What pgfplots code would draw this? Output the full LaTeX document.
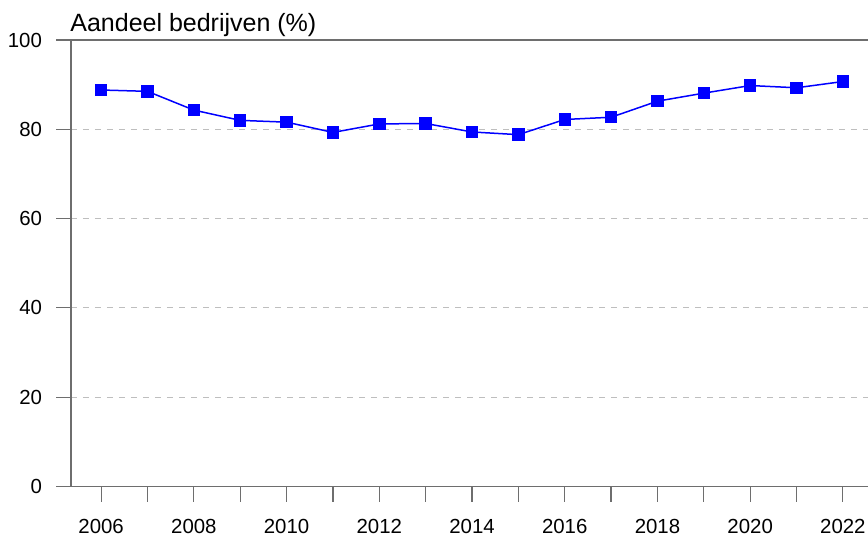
\documentclass[border=0pt]{standalone}
\usepackage{pgfplots}
\pgfplotsset{compat=1.18}
\usepackage{fontspec}
\setmainfont{Liberation Sans}
\usetikzlibrary{calc}

\definecolor{axisgray}{RGB}{110,110,110}
\definecolor{gridgray}{RGB}{190,190,190}

\begin{document}
\begin{tikzpicture}
\begin{axis}[
    scale only axis,
    width=398.5pt, height=223.25pt,
    xmin=2005.35, xmax=2022.54,
    ymin=0, ymax=100,
    axis x line=box, axis y line=left,
    axis line style={axisgray, line width=0.6pt},
    x axis line style={-}, y axis line style={-},
    xtick={2006,2007,...,2022},
    xticklabels={2006,,2008,,2010,,2012,,2014,,2016,,2018,,2020,,2022},
    ytick={0,20,40,60,80,100},
    xtick pos=bottom, ytick pos=left,
    tick align=outside,
    major tick length=7.5pt,
    tick style={axisgray, line width=0.6pt},
    ymajorgrids,
    grid style={gridgray, dashed, line width=0.4pt},
    font=\fontsize{10.2pt}{12pt}\selectfont,
    /pgf/number format/assume math mode=true,
    xticklabel style={yshift=-7.5pt, inner sep=1pt},
    yticklabel style={xshift=-3.5pt},
    clip=false,
]
\addplot[blue, line width=0.75pt, mark=square*, mark size=2.75pt,
         mark options={fill=blue, draw=blue}] coordinates {
    (2006,88.8) (2007,88.5) (2008,84.3) (2009,82.0) (2010,81.6)
    (2011,79.3) (2012,81.2) (2013,81.3) (2014,79.4) (2015,78.8)
    (2016,82.2) (2017,82.7) (2018,86.3) (2019,88.1) (2020,89.8)
    (2021,89.3) (2022,90.7)
};
\node[anchor=base west, inner sep=0pt, font=\fontsize{12.5pt}{14pt}\selectfont]
    at ($(rel axis cs:0,1)+(-0.5pt,4pt)$) {Aandeel bedrijven (\%)};
\coordinate (bl) at (rel axis cs:0,0);
\coordinate (tr) at (rel axis cs:1,1);
\end{axis}
\pgfresetboundingbox
\path[use as bounding box] ($(bl)+(-35.5pt,-27.25pt)$) rectangle ($(tr)+(0pt,20pt)$);
\end{tikzpicture}
\end{document}
